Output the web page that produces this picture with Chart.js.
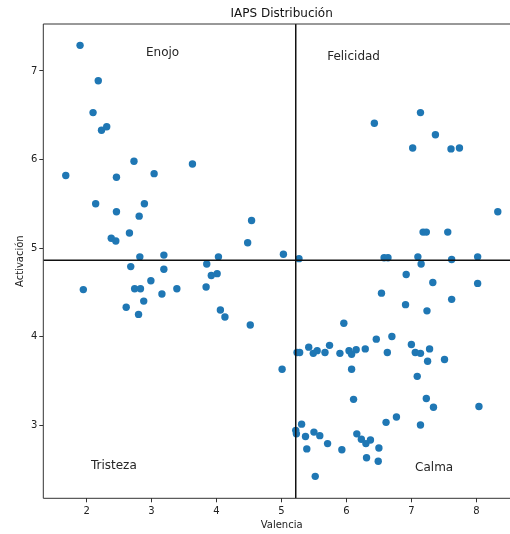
<!DOCTYPE html>
<html>
<head>
<meta charset="utf-8">
<script src="https://cdn.jsdelivr.net/npm/chart.js@4/dist/chart.umd.min.js"></script>
<style>
  html, body { margin: 0; padding: 0; background: #fff; overflow: hidden; }
  #wrap { width: 524px; height: 534px; }
</style>
</head>
<body>
<div id="wrap"><canvas id="chart" width="524" height="534"></canvas></div>
<script>
// valencia / activacion por imagen
const valencia = [
  1.90, 2.18, 2.10, 2.23, 2.31, 2.73, 3.63, 1.68, 2.46, 3.04,
  2.14, 2.89, 2.46, 2.81, 2.66, 2.38, 2.45, 2.82, 3.19, 2.68,
  3.19, 2.99, 1.95, 2.74, 2.83, 3.16, 3.39, 2.88, 2.61, 2.80,
  3.84, 3.85, 4.54, 4.48, 4.03, 5.03, 3.92, 4.01, 4.06, 4.13,
  4.52, 5.01, 5.27, 5.24, 5.28, 5.42, 5.49, 5.55, 5.67, 5.74,
  5.90, 6.04, 6.08, 6.15, 6.29, 6.46, 6.70, 6.63, 7.00, 7.06,
  7.14, 7.28, 7.25, 7.51, 6.08, 7.09, 6.11, 7.23, 7.34, 8.04,
  5.96, 6.77, 6.61, 7.14, 5.31, 5.22, 5.23, 5.37, 5.50, 5.59,
  5.71, 5.39, 5.93, 6.16, 6.23, 6.30, 6.37, 6.50, 6.31, 6.49,
  5.52, 7.14, 6.43, 7.37, 7.02, 7.61, 7.74, 8.33, 7.18, 7.23,
  7.56, 6.58, 6.64, 7.10, 7.15, 7.62, 8.02, 6.92, 7.33, 8.02,
  6.54, 7.62, 6.91, 7.24
];
const activacion = [
  7.29, 6.89, 6.53, 6.33, 6.37, 5.98, 5.95, 5.82, 5.80, 5.84,
  5.50, 5.50, 5.41, 5.36, 5.17, 5.11, 5.08, 4.90, 4.92, 4.79,
  4.76, 4.63, 4.53, 4.54, 4.54, 4.48, 4.54, 4.40, 4.33, 4.25,
  4.56, 4.82, 5.31, 5.06, 4.90, 4.93, 4.69, 4.71, 4.30, 4.22,
  4.13, 3.63, 4.88, 3.82, 3.82, 3.88, 3.81, 3.84, 3.82, 3.90,
  3.81, 3.84, 3.80, 3.85, 3.86, 3.97, 4.00, 3.82, 3.91, 3.82,
  3.81, 3.86, 3.72, 3.74, 3.63, 3.55, 3.29, 3.30, 3.20, 3.21,
  4.15, 3.09, 3.03, 3.00, 3.01, 2.94, 2.90, 2.87, 2.92, 2.88,
  2.79, 2.73, 2.72, 2.90, 2.84, 2.79, 2.83, 2.74, 2.63, 2.59,
  2.42, 6.53, 6.41, 6.28, 6.13, 6.12, 6.13, 5.41, 5.18, 5.18,
  5.18, 4.89, 4.89, 4.90, 4.82, 4.87, 4.90, 4.70, 4.61, 4.60,
  4.49, 4.42, 4.36, 4.29
];

// lineas de separacion (media)
const corteValencia = 5.22;
const corteActivacion = 4.861;

const xTicks = [2, 3, 4, 5, 6, 7, 8];
const yTicks = [3, 4, 5, 6, 7];
const xRange = [1.334, 8.672];
const yRange = [2.172, 7.531];

const cuadrantes = ['Enojo', 'Felicidad', 'Tristeza', 'Calma'];
const cuadX = [3.17, 6.11, 2.42, 7.35];
const cuadY = [7.21, 7.16, 2.54, 2.52];

const puntos = valencia.map((v, i) => ({ x: v, y: activacion[i] }));

const font = "'DejaVu Sans', sans-serif";

const etiquetas = {
    id: 'etiquetas',
    afterDatasetsDraw(chart) {
        const { ctx, scales: { x, y } } = chart;
        ctx.save();
        ctx.font = '12px ' + font;
        ctx.fillStyle = '#262626';
        ctx.textAlign = 'center';
        ctx.textBaseline = 'middle';
        cuadrantes.forEach((t, i) => {
            ctx.fillText(t, x.getPixelForValue(cuadX[i]), y.getPixelForValue(cuadY[i]));
        });
        ctx.restore();
    }
};

// ejes izquierdo, superior e inferior (el derecho queda fuera de la imagen)
const marco = {
    id: 'marco',
    afterDraw(chart) {
        const { ctx, chartArea: a } = chart;
        ctx.save();
        ctx.strokeStyle = '#333';
        ctx.lineWidth = 1;
        ctx.beginPath();
        ctx.moveTo(a.right, a.top);
        ctx.lineTo(a.left, a.top);
        ctx.lineTo(a.left, a.bottom);
        ctx.lineTo(a.right, a.bottom);
        ctx.stroke();
        ctx.restore();
    }
};

new Chart(document.getElementById('chart'), {
    type: 'scatter',
    data: {
        datasets: [
            {
                data: [{ x: corteValencia, y: yRange[0] }, { x: corteValencia, y: yRange[1] }],
                showLine: true,
                borderColor: '#111',
                borderWidth: 1.5,
                pointRadius: 0
            },
            {
                data: [{ x: xRange[0], y: corteActivacion }, { x: xRange[1], y: corteActivacion }],
                showLine: true,
                borderColor: '#111',
                borderWidth: 1.5,
                pointRadius: 0
            },
            {
                data: puntos,
                backgroundColor: '#1f77b4',
                borderColor: '#1f77b4',
                borderWidth: 0,
                pointRadius: 3.7
            }
        ]
    },
    options: {
        responsive: false,
        animation: false,
        layout: { padding: { left: 0, right: 2.3, top: 0, bottom: 0 } },
        plugins: {
            legend: { display: false },
            tooltip: { enabled: false },
            title: {
                display: true,
                fullSize: false,
                text: 'IAPS Distribución',
                color: '#111',
                font: { family: font, size: 12, weight: 'normal' },
                padding: { top: 6.5, bottom: 3.1 }
            }
        },
        scales: {
            x: {
                type: 'linear',
                min: xRange[0],
                max: xRange[1],
                afterBuildTicks: s => { s.ticks = xTicks.map(v => ({ value: v })); },
                afterFit: s => { s.height = 35.7; },
                grid: { display: true, drawOnChartArea: false, tickLength: 4, color: '#333' },
                border: { display: false },
                ticks: { color: '#222', padding: 3, font: { family: font, size: 10 } },
                title: {
                    display: true,
                    text: 'Valencia',
                    color: '#222',
                    font: { family: font, size: 10 },
                    padding: { top: 0, bottom: 3 }
                }
            },
            y: {
                type: 'linear',
                min: yRange[0],
                max: yRange[1],
                afterBuildTicks: s => { s.ticks = yTicks.map(v => ({ value: v })); },
                afterFit: s => { s.width = 43.3; },
                grid: { display: true, drawOnChartArea: false, tickLength: 4, color: '#333' },
                border: { display: false },
                ticks: { color: '#222', padding: 2, font: { family: font, size: 10 } },
                title: {
                    display: true,
                    text: 'Activación',
                    color: '#222',
                    font: { family: font, size: 10 },
                    padding: { top: 14, bottom: 0 }
                }
            }
        }
    },
    plugins: [etiquetas, marco]
});
</script>
</body>
</html>
